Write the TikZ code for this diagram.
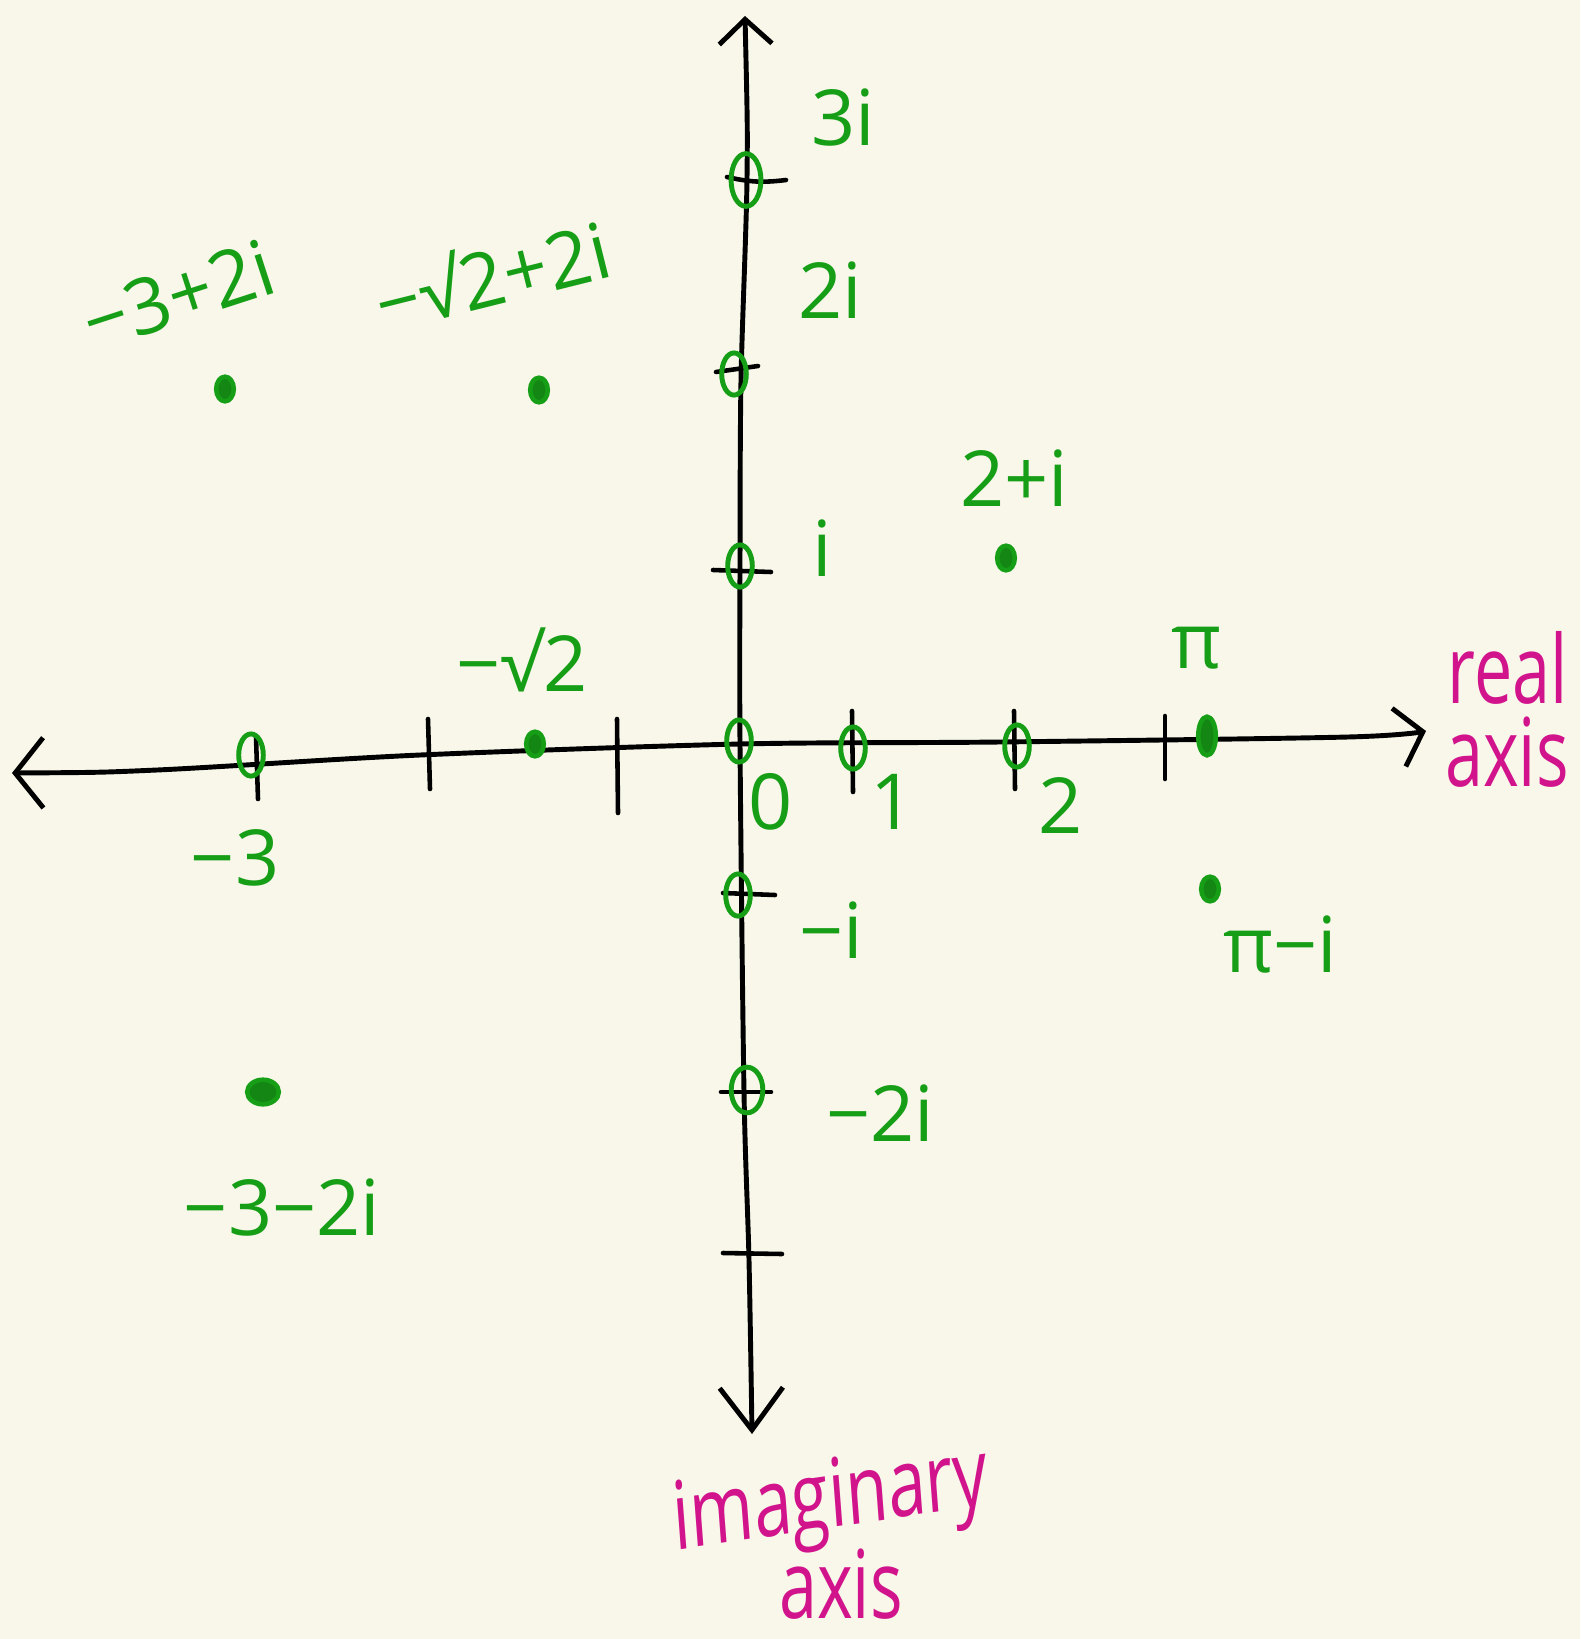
\documentclass[tikz,border=0pt]{standalone}
\usepackage{fontspec}
\setmainfont{Open Sans}
\usetikzlibrary{arrows.meta,shapes.geometric}
\definecolor{bgc}{RGB}{248,247,234}
\definecolor{grn}{RGB}{22,158,22}
\definecolor{mag}{RGB}{210,20,140}
\tikzset{
  axisline/.style={line width=2.8pt, black, line cap=round, line join=round},
  tickline/.style={line width=2.6pt, black, line cap=round},
  ptbig/.style={ellipse, draw=grn, line width=2.8pt, minimum width=14pt, minimum height=24pt, inner sep=0pt},
  ptsmall/.style={ellipse, draw=grn, fill=grn!85!black, line width=2.6pt, minimum width=10pt, minimum height=14pt, inner sep=0pt},
  lbl/.style={text=grn, font=\fontsize{44}{50}\selectfont, inner sep=0pt},
  mlbl/.style={text=mag, font=\fontsize{54}{60}\selectfont, inner sep=0pt, xscale=0.72},
}
\begin{document}
\begin{tikzpicture}[x=0.02cm, y=-0.02cm]
\fill[bgc] (0,0) rectangle (1580,1639);
\useasboundingbox (0,0) rectangle (1580,1639);

% axes
\coordinate (rl) at (12,773);
\coordinate (rr) at (1426,731);
\coordinate (it) at (745,16);
\coordinate (ib) at (752,1434);
\draw[axisline, {Straight Barb[length=16pt,width=40pt]}-{Straight Barb[length=14pt,width=34pt]}]
  plot[smooth, tension=0.5] coordinates {(rl) (157,770) (420,755) (740,744) (1000,742) (1348,737) (rr)};
\draw[axisline, {Straight Barb[length=14pt,width=30pt]}-{Straight Barb[length=24pt,width=36pt]}]
  plot[smooth, tension=0.5] coordinates {(it) (747,178) (741,380) (740,564) (740,744) (744,1092) (749,1260) (ib)};

% real ticks
\draw[tickline] (256,737) -- (258,799);
\draw[tickline] (428,719) -- (430,789);
\draw[tickline] (617,719) -- (618,813);
\draw[tickline] (852,711) -- (853,792);
\draw[tickline] (1014,711) -- (1015,789);
\draw[tickline] (1165,716) -- (1165,779);
% imaginary ticks
\draw[tickline] (727,177) to[bend right=10] (786,180);
\draw[tickline] (716,372) -- (758,366);
\draw[tickline] (713,570) -- (771,572);
\draw[tickline] (723,893) -- (775,895);
\draw[tickline] (721,1092) -- (771,1092);
\draw[tickline] (723,1253) -- (782,1254);

% points
\node[ptbig] (pm3) at (251,755) {};
\node[ptsmall] (pms2) at (535,744) {};
\node[ptbig] (p0) at (739,741) {};
\node[ptbig] (p1) at (853,748) {};
\node[ptbig] (p2) at (1017,746) {};
\node[ptsmall, minimum height=22pt] (ppi) at (1207,736) {};
\node[ptbig] (pi1) at (740,566) {};
\node[ptbig] (pi2) at (734,374) {};
\node[ptbig, minimum width=17pt, minimum height=30pt] (pi3) at (746,180) {};
\node[ptbig] (pmi1) at (738,895) {};
\node[ptbig, minimum width=18pt, minimum height=26pt] (pmi2) at (747,1090) {};
\node[ptsmall] (pa) at (225,389) {};
\node[ptsmall] (pb) at (539,390) {};
\node[ptsmall] (pc) at (1006,558) {};
\node[ptsmall] (pd) at (1210,889) {};
\node[ptsmall, minimum width=18pt, minimum height=14pt] (pe) at (263,1092) {};

% labels
\node[lbl] (l3i) at (843,118) {3i};
\node[lbl] (l2i) at (830,290) {2i};
\node[lbl] (li) at (822,548) {i};
\node[lbl] (l2pi) at (1014,478) {2+i};
\node[lbl] (lpi) at (1197,648) {π};
\node[lbl] (lms2) at (522,660) {−√2};
\node[lbl] (l0) at (771,802) {0};
\node[lbl] (l1) at (893,802) {1};
\node[lbl] (l2) at (1061,806) {2};
\node[lbl] (lm3) at (235,858) {−3};
\node[lbl] (lmi) at (831,930) {−i};
\node[lbl] (lm2i) at (880,1113) {−2i};
\node[lbl] (lpmi) at (1280,944) {π−i};
\node[lbl] (lm3m2i) at (282,1207) {−3−2i};
\node[lbl, rotate=18] (lm3p2i) at (178,295) {−3+2i};
\node[lbl, rotate=14] (lms2p2i) at (492,274) {−√2+2i};

\node[mlbl] (lreal) at (1508,668) {real};
\node[mlbl] (laxis1) at (1507,752) {axis};
\node[mlbl, rotate=6] (limag) at (831,1504) {imaginary};
\node[mlbl] (laxis2) at (841,1584) {axis};
\end{tikzpicture}
\end{document}
